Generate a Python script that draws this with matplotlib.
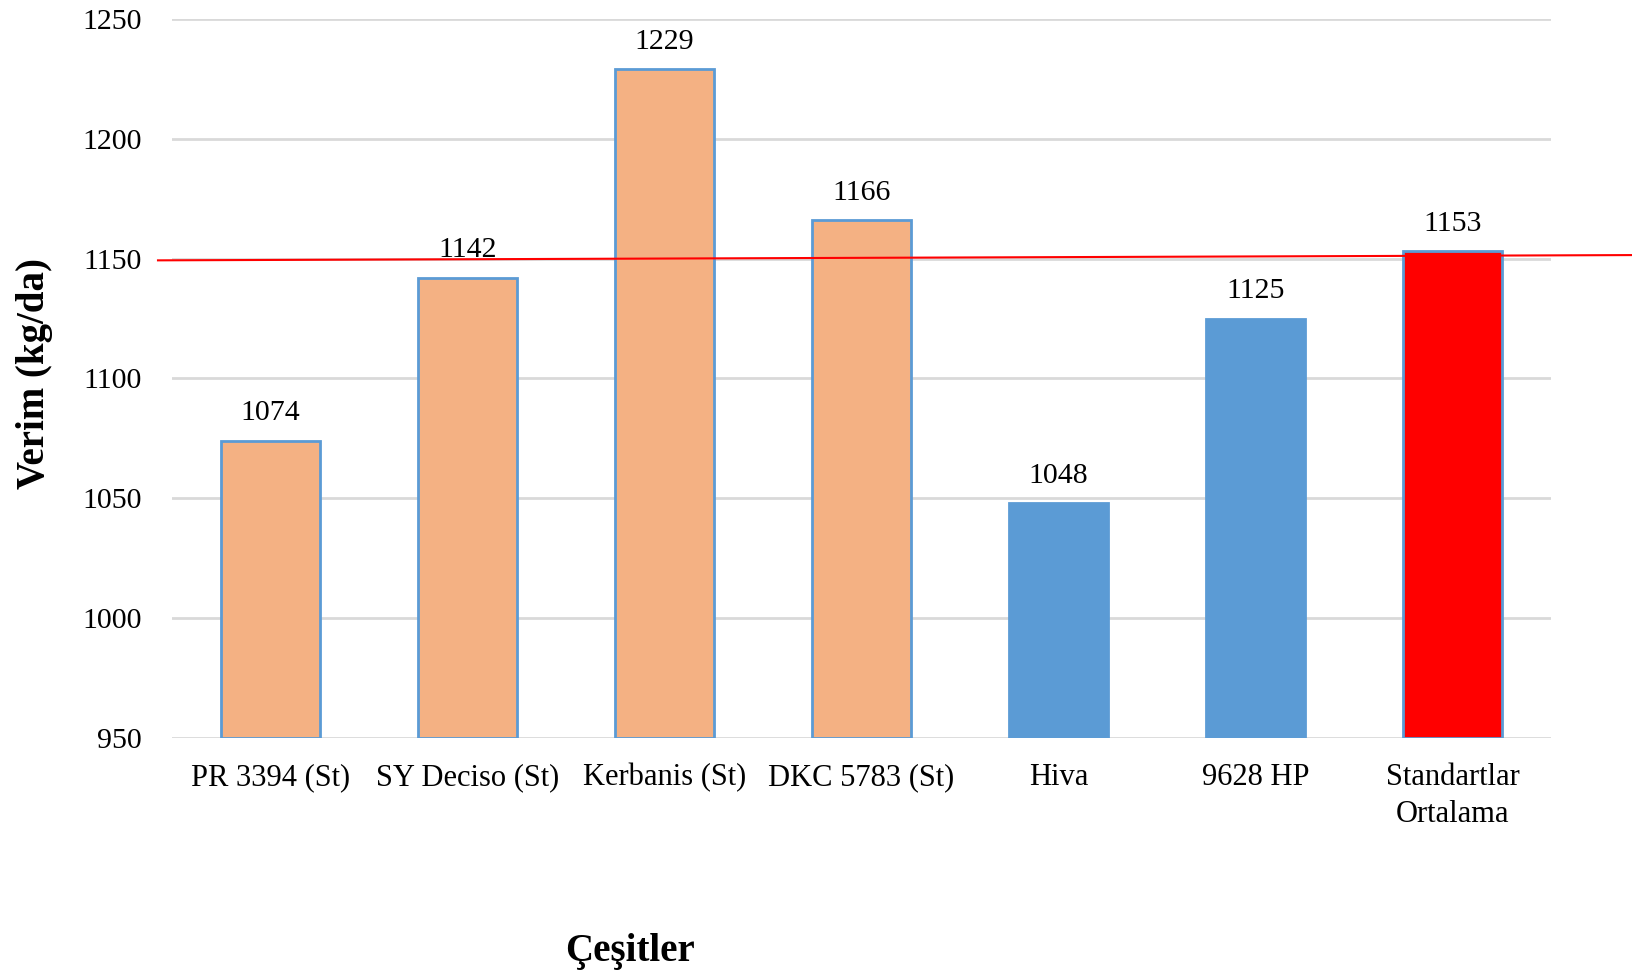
import numpy as np
import matplotlib
matplotlib.use("Agg")
from matplotlib import pyplot as plt
import matplotlib.transforms as mtransforms

plt.rcParams["font.family"] = ["Liberation Serif", "DejaVu Serif"]

# data
cesitler = ["PR 3394 (St)", "SY Deciso (St)", "Kerbanis (St)", "DKC 5783 (St)",
            "Hiva", "9628 HP", "Standartlar\nOrtalama"]
verim = [1074, 1142, 1229, 1166, 1048, 1125, 1153]
renkler = ["#F4B183", "#F4B183", "#F4B183", "#F4B183", "#5B9BD5", "#5B9BD5", "#FF0000"]
# hand drawn red reference line (left end, right end) in kg/da
ref_line = [1149.3, 1151.5]

fig = plt.figure(figsize=(16.32, 9.76), dpi=100)
ax = fig.add_axes([0.1054, 0.2439, 0.845, 0.7366])

x = np.arange(len(cesitler))
bars = ax.bar(x, np.array(verim) - 950, bottom=950, width=0.5, color=renkler,
              edgecolor="#5B9BD5", linewidth=2, zorder=3)

for xi, v in zip(x, verim):
    ax.text(xi, v + 6, str(v), ha="center", va="bottom", fontsize=21.5, color="#000000")

ax.set_xlim(-0.5, len(cesitler) - 0.5)
ax.set_ylim(950, 1250)
ax.set_yticks(np.arange(950, 1251, 50))
ax.set_xticks(x)
ax.set_xticklabels(cesitler, fontsize=22, linespacing=1.35)
ax.tick_params(axis="y", length=0, pad=22, labelsize=21.5)
ax.tick_params(axis="x", length=0, pad=18)
ax.grid(axis="y", color="#D9D9D9", linewidth=2, zorder=0)
for s in ax.spines.values():
    s.set_visible(False)

# red line runs from left of the axes to the right edge of the figure
trans = mtransforms.blended_transform_factory(fig.transFigure, ax.transData)
ax.plot([158 / 1632, 1.0], ref_line, color="#FF0000", linewidth=1.5,
        transform=trans, clip_on=False, zorder=4)

fig.text(0.021, 0.617, "Verim (kg/da)", rotation=90, ha="center", va="center",
         fontsize=28, fontweight="bold")
fig.text(0.386, 0.025, "Çeşitler", ha="center", va="center",
         fontsize=28, fontweight="bold")

fig.savefig("out.png", dpi=100)
